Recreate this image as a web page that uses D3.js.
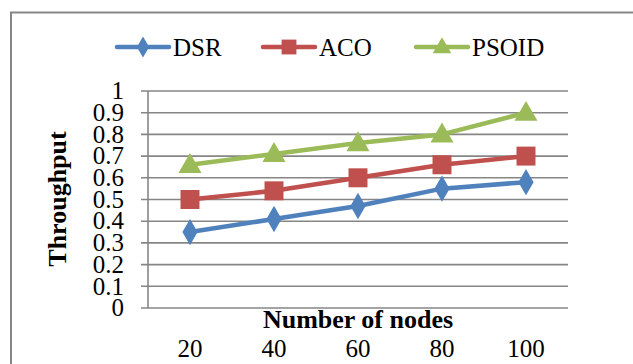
<!DOCTYPE html>
<html><head><meta charset="utf-8">
<script src="https://cdn.jsdelivr.net/npm/d3@7"></script>
<style>body{margin:0;background:#fff}svg{display:block}text{font-family:"Liberation Serif","Times New Roman",serif;fill:#000}</style>
</head><body>
<script>
const categories = ["20","40","60","80","100"];
const seriesNames = ["DSR","ACO","PSOID"];
const dsr = [0.35,0.41,0.47,0.55,0.58];
const aco = [0.50,0.54,0.60,0.66,0.70];
const psoid = [0.66,0.71,0.76,0.80,0.90];
const yTicks = [0,0.1,0.2,0.3,0.4,0.5,0.6,0.7,0.8,0.9,1];
const colors = ["#4F81BD","#C0504D","#9BBB59"];
const symbols = [d3.symbolDiamond, d3.symbolSquare, d3.symbolTriangle];

const W=633,H=364;
const svg=d3.select("body").append("svg").attr("width",W).attr("height",H);
svg.append("rect").attr("x",11).attr("y",12.5).attr("width",W+20).attr("height",H+20)
  .attr("fill","none").attr("stroke","#868686").attr("stroke-width",2);

const x=d3.scaleBand().domain(categories).range([148,568]);
const y=d3.scaleLinear().domain([0,1]).range([308,91]);

// grid
svg.append("g").selectAll("line").data(yTicks).join("line")
  .attr("x1",141).attr("x2",568).attr("y1",d=>y(d)).attr("y2",d=>y(d))
  .attr("stroke","#868686").attr("stroke-width",1.6);
svg.append("line").attr("x1",148).attr("x2",148).attr("y1",y(1)).attr("y2",y(0))
  .attr("stroke","#868686").attr("stroke-width",1.6);

// y tick labels
svg.append("g").selectAll("text").data(yTicks).join("text")
  .attr("x",124).attr("y",d=>y(d)).attr("dy","0.33em").attr("text-anchor","end")
  .attr("font-size",25).text(d=>d3.format("~g")(d));

// x tick labels
svg.append("g").selectAll("text").data(categories).join("text")
  .attr("x",d=>x(d)+x.bandwidth()/2).attr("y",357).attr("text-anchor","middle")
  .attr("font-size",25).text(d=>d);

// axis titles
svg.append("text").attr("x",358).attr("y",328).attr("text-anchor","middle")
  .attr("font-size",26).attr("font-weight","bold").text("Number of nodes");
svg.append("text").attr("transform","translate(66,199) rotate(-90)").attr("text-anchor","middle")
  .attr("font-size",26).attr("font-weight","bold").text("Throughput");

const data=[dsr,aco,psoid];
const line=d3.line().x((d,i)=>x(categories[i])+x.bandwidth()/2).y(d=>y(d));
data.forEach((s,k)=>{
  svg.append("path").attr("d",line(s)).attr("fill","none").attr("stroke",colors[k])
    .attr("stroke-width",4.5).attr("stroke-linejoin","round");
  const sizes=[200,360,230];
  svg.append("g").selectAll("path").data(s).join("path")
    .attr("transform",(d,i)=>`translate(${x(categories[i])+x.bandwidth()/2},${y(d)+(k==2?1.5:0)})`)
    .attr("d",d3.symbol().type(symbols[k]).size(sizes[k])).attr("fill",colors[k]);
});

// legend
const legX=[117,263,416];
seriesNames.forEach((n,k)=>{
  const g=svg.append("g").attr("transform",`translate(${legX[k]},47)`);
  g.append("line").attr("x1",0).attr("x2",52).attr("stroke",colors[k]).attr("stroke-width",4.5).attr("stroke-linecap","round");
  const ls=[130,220,150];
  g.append("path").attr("transform",`translate(26,${k==2?1:0})`).attr("d",d3.symbol().type(symbols[k]).size(ls[k])).attr("fill",colors[k]);
  g.append("text").attr("x",56).attr("y",9).attr("font-size",25).text(n);
});
</script>
</body></html>
